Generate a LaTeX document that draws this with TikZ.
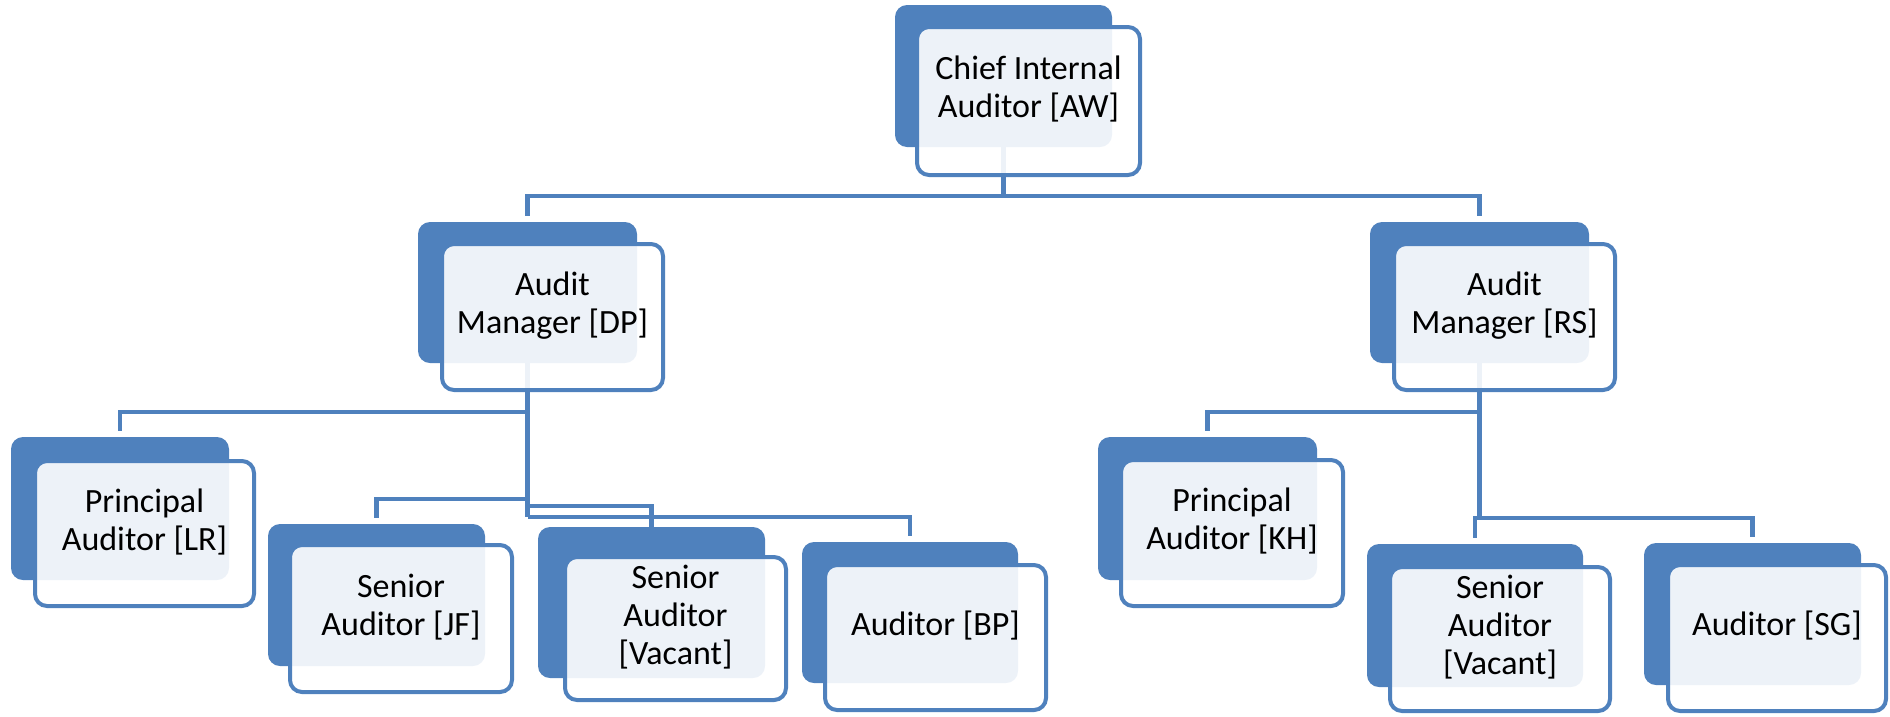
\documentclass[tikz,border=0pt]{standalone}
\usepackage{fontspec}
\setmainfont{Carlito}
\usetikzlibrary{fit,backgrounds}
\definecolor{orgblue}{HTML}{4F81BD}
\begin{document}
\begin{tikzpicture}[x=1pt,y=-1pt,
  darkbox/.style={fill=orgblue, draw=none, rounded corners=12pt, inner sep=0pt},
  lightbox/.style={draw=orgblue, line width=4pt, fill=white, fill opacity=0.9,
    text opacity=1, rounded corners=12pt, inner sep=0pt, align=center,
    font=\fontsize{34}{38}\selectfont},
  conn/.style={draw=orgblue, line width=4.5pt, line join=miter}]
\useasboundingbox (0,0) rectangle (1890,716);
% dark back boxes
\node[darkbox, fit={(895,5) (1112,147)}] (cia-d) {};
\node[darkbox, fit={(418,222) (637,363)}] (dp-d) {};
\node[darkbox, fit={(1370,222) (1589,363)}] (rs-d) {};
\node[darkbox, fit={(11,437) (229,580)}] (lr-d) {};
\node[darkbox, fit={(268,524) (485,666)}] (jf-d) {};
\node[darkbox, fit={(538,527) (765,678)}] (sva-d) {};
\node[darkbox, fit={(802,542) (1018,683)}] (bp-d) {};
\node[darkbox, fit={(1098,437) (1317,580)}] (kh-d) {};
\node[darkbox, fit={(1367,544) (1583,687)}] (svb-d) {};
\node[darkbox, fit={(1644,543) (1861,685)}] (sg-d) {};
% light front boxes with text
\node[lightbox, fit={(917,27) (1140,175)}] (cia) {Chief Internal\\Auditor [AW]};
\node[lightbox, fit={(442,244) (663,390)}] (dp) {Audit\\Manager [DP]};
\node[lightbox, fit={(1394,244) (1615,390)}] (rs) {Audit\\Manager [RS]};
\node[lightbox, fit={(35,461) (254,606)}] (lr) {Principal\\Auditor [LR]};
\node[lightbox, fit={(290,545) (512,692)}] (jf) {Senior\\Auditor [JF]};
\node[lightbox, fit={(565,557) (786,700)}] (sva) {Senior\\Auditor\\{[Vacant]}};
\node[lightbox, fit={(825,565) (1046,710)}] (bp) {Auditor [BP]};
\node[lightbox, fit={(1121,460) (1343,606)}] (kh) {Principal\\Auditor [KH]};
\node[lightbox, fit={(1390,567) (1610,711)}] (svb) {Senior\\Auditor\\{[Vacant]}};
\node[lightbox, fit={(1668,565) (1886,711)}] (sg) {Auditor [SG]};
% branch levels
\coordinate (yA) at (0,196);
\coordinate (yB) at (0,412);
\coordinate (yJF) at (0,499);
\coordinate (yV) at (0,506);
\coordinate (yBP) at (0,517);
\coordinate (yR) at (0,518);
\begin{pgfonlayer}{background}
\draw[conn] (cia-d.south) -- (cia-d.south |- yA);
\draw[conn, shorten <=6pt, shorten >=6pt] (dp-d.north) -- (dp-d.north |- yA) -- (rs-d.north |- yA) -- (rs-d.north);
\draw[conn] (dp-d.south) -- (dp-d.south |- yBP);
\draw[conn, shorten >=6pt] (dp-d.south |- yB) -| (lr-d.north);
\draw[conn, shorten >=6pt] (dp-d.south |- yJF) -| (jf-d.north);
\draw[conn] (dp-d.south |- yV) -| (sva-d.north);
\draw[conn, shorten >=6pt] (dp-d.south |- yBP) -| (bp-d.north);
\draw[conn] (rs-d.south) -- (rs-d.south |- yR);
\draw[conn, shorten >=6pt] (rs-d.south |- yB) -| (kh-d.north);
\draw[conn, shorten >=6pt] (rs-d.south |- yR) -| (svb-d.north);
\draw[conn, shorten >=6pt] (rs-d.south |- yR) -| (sg-d.north);
\end{pgfonlayer}
\end{tikzpicture}
\end{document}
